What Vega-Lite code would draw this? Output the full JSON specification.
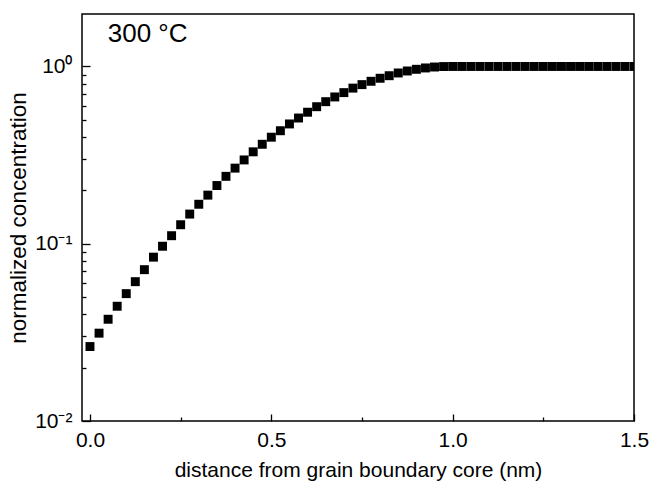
{
  "$schema": "https://vega.github.io/schema/vega-lite/v6.json",
  "width": 552,
  "height": 407,
  "autosize": {"type": "none"},
  "padding": {"left": 82, "top": 14, "right": 17, "bottom": 65},
  "background": "white",
  "config": {
    "font": "Liberation Sans",
    "view": {"stroke": "#000", "strokeWidth": 1.5},
    "axis": {
      "grid": false,
      "domain": false,
      "tickColor": "#000",
      "tickWidth": 1.3,
      "labelColor": "#000",
      "titleColor": "#000",
      "labelFont": "Liberation Sans",
      "titleFont": "Liberation Sans",
      "labelFontSize": 21,
      "titleFontSize": 21,
      "titleFontWeight": "normal",
      "labelFlush": false,
      "labelOverlap": false
    }
  },
  "layer": [
    {
      "data": {
        "values": [
          {"d": 0.0, "c": 0.0263},
          {"d": 0.025, "c": 0.0313},
          {"d": 0.05, "c": 0.0375},
          {"d": 0.075, "c": 0.0444},
          {"d": 0.1, "c": 0.0523},
          {"d": 0.125, "c": 0.0611},
          {"d": 0.15, "c": 0.0714},
          {"d": 0.175, "c": 0.084},
          {"d": 0.2, "c": 0.0968},
          {"d": 0.225, "c": 0.111},
          {"d": 0.25, "c": 0.128},
          {"d": 0.275, "c": 0.147},
          {"d": 0.3, "c": 0.167},
          {"d": 0.325, "c": 0.188},
          {"d": 0.35, "c": 0.213},
          {"d": 0.375, "c": 0.24},
          {"d": 0.4, "c": 0.267},
          {"d": 0.425, "c": 0.297},
          {"d": 0.45, "c": 0.33},
          {"d": 0.475, "c": 0.364},
          {"d": 0.5, "c": 0.399},
          {"d": 0.525, "c": 0.434},
          {"d": 0.55, "c": 0.474},
          {"d": 0.575, "c": 0.512},
          {"d": 0.6, "c": 0.552},
          {"d": 0.625, "c": 0.593},
          {"d": 0.65, "c": 0.633},
          {"d": 0.675, "c": 0.673},
          {"d": 0.7, "c": 0.712},
          {"d": 0.725, "c": 0.755},
          {"d": 0.75, "c": 0.79},
          {"d": 0.775, "c": 0.825},
          {"d": 0.8, "c": 0.858},
          {"d": 0.825, "c": 0.887},
          {"d": 0.85, "c": 0.919},
          {"d": 0.875, "c": 0.943},
          {"d": 0.9, "c": 0.964},
          {"d": 0.925, "c": 0.981},
          {"d": 0.95, "c": 0.993},
          {"d": 0.975, "c": 0.999},
          {"d": 1.0, "c": 1.0},
          {"d": 1.025, "c": 1.0},
          {"d": 1.05, "c": 1.0},
          {"d": 1.075, "c": 1.0},
          {"d": 1.1, "c": 1.0},
          {"d": 1.125, "c": 1.0},
          {"d": 1.15, "c": 1.0},
          {"d": 1.175, "c": 1.0},
          {"d": 1.2, "c": 1.0},
          {"d": 1.225, "c": 1.0},
          {"d": 1.25, "c": 1.0},
          {"d": 1.275, "c": 1.0},
          {"d": 1.3, "c": 1.0},
          {"d": 1.325, "c": 1.0},
          {"d": 1.35, "c": 1.0},
          {"d": 1.375, "c": 1.0},
          {"d": 1.4, "c": 1.0},
          {"d": 1.425, "c": 1.0},
          {"d": 1.45, "c": 1.0},
          {"d": 1.475, "c": 1.0},
          {"d": 1.5, "c": 1.0}
        ]
      },
      "layer": [
        {
          "mark": {"type": "point", "shape": "square", "filled": true, "color": "#000", "opacity": 1, "size": 80, "clip": true},
          "encoding": {
            "x": {
              "field": "d",
              "type": "quantitative",
              "scale": {"domain": [-0.022, 1.5], "nice": false, "zero": false},
              "axis": {
                "orient": "bottom",
                "values": [0, 0.5, 1, 1.5],
                "format": ".1f",
                "tickSize": -7,
                "labelPadding": 15,
                "title": "distance from grain boundary core (nm)",
                "titlePadding": 9
              }
            },
            "y": {
              "field": "c",
              "type": "quantitative",
              "scale": {"type": "log", "domain": [0.01, 1.977], "nice": false},
              "axis": {
                "orient": "left",
                "values": [0.01, 0.1, 1],
                "labelExpr": "datum.value > 0.5 ? '10⁰' : datum.value > 0.05 ? '10⁻¹' : '10⁻²'",
                "tickSize": -8,
                "labelPadding": 18,
                "title": "normalized concentration",
                "titleFontSize": 22.5,
                "titlePadding": 4
              }
            }
          }
        },
        {
          "mark": {"type": "point", "opacity": 0, "clip": true},
          "encoding": {
            "x": {
              "field": "d",
              "type": "quantitative",
              "axis": {
                "orient": "bottom",
                "values": [0.25, 0.75, 1.25],
                "tickSize": -4,
                "labels": false,
                "title": null
              }
            },
            "y": {
              "field": "c",
              "type": "quantitative",
              "axis": {
                "orient": "left",
                "values": [0.02, 0.03, 0.04, 0.05, 0.06, 0.07, 0.08, 0.09, 0.2, 0.3, 0.4, 0.5, 0.6, 0.7, 0.8, 0.9],
                "tickSize": -4,
                "labels": false,
                "title": null
              }
            }
          }
        }
      ],
      "resolve": {"axis": {"x": "independent", "y": "independent"}}
    },
    {
      "data": {"values": [{"label": "300 °C"}]},
      "mark": {"type": "text", "align": "left", "baseline": "alphabetic", "fontSize": 26, "fontWeight": "normal", "font": "Liberation Sans", "fill": "#000"},
      "encoding": {
        "text": {"field": "label", "type": "nominal"},
        "x": {"datum": 0.049, "type": "quantitative", "axis": null},
        "y": {"datum": 1.375, "type": "quantitative", "axis": null}
      }
    }
  ],
  "resolve": {"axis": {"x": "independent", "y": "independent"}}
}
